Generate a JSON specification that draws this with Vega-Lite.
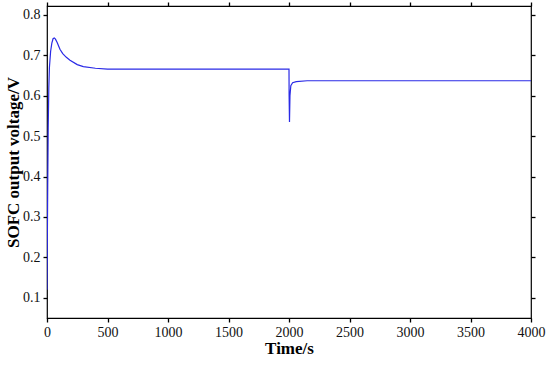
{
  "$schema": "https://vega.github.io/schema/vega-lite/v6.json",
  "width": 484,
  "height": 312,
  "autosize": {"type": "none"},
  "padding": {"left": 47, "top": 6, "right": 19, "bottom": 47},
  "background": "white",
  "config": {
    "view": {"stroke": "black", "strokeWidth": 1.2},
    "axis": {
      "labelFont": "Liberation Serif",
      "titleFont": "Liberation Serif",
      "labelFontSize": 14,
      "titleFontSize": 17,
      "titleFontWeight": "bold",
      "labelColor": "#111",
      "titleColor": "black",
      "grid": false,
      "domain": false,
      "ticks": true,
      "tickSize": 4,
      "tickColor": "black",
      "tickWidth": 1.3,
      "labelFlush": false,
      "labelOverlap": false,
      "labelPadding": 3
    }
  },
  "data": {
    "values": [
      {"t": 0, "v": 0.12},
      {"t": 3, "v": 0.25},
      {"t": 6, "v": 0.38},
      {"t": 10, "v": 0.52},
      {"t": 15, "v": 0.62},
      {"t": 20, "v": 0.67},
      {"t": 30, "v": 0.71},
      {"t": 40, "v": 0.73},
      {"t": 50, "v": 0.741},
      {"t": 60, "v": 0.743},
      {"t": 70, "v": 0.74},
      {"t": 85, "v": 0.731},
      {"t": 107, "v": 0.715},
      {"t": 130, "v": 0.704},
      {"t": 160, "v": 0.695},
      {"t": 190, "v": 0.688},
      {"t": 250, "v": 0.677},
      {"t": 300, "v": 0.672},
      {"t": 400, "v": 0.668},
      {"t": 500, "v": 0.666},
      {"t": 2000, "v": 0.666},
      {"t": 2001, "v": 0.6},
      {"t": 2004, "v": 0.535},
      {"t": 2008, "v": 0.6},
      {"t": 2015, "v": 0.625},
      {"t": 2030, "v": 0.632},
      {"t": 2060, "v": 0.635},
      {"t": 2150, "v": 0.637},
      {"t": 4000, "v": 0.637}
    ]
  },
  "layer": [
    {
      "mark": {"type": "line", "color": "#2a2ae6", "strokeWidth": 1.2, "clip": true},
      "encoding": {
        "x": {
          "field": "t", "type": "quantitative",
          "scale": {"domain": [0, 4000], "nice": false, "zero": false},
          "axis": {"title": "Time/s", "format": "d", "values": [0, 500, 1000, 1500, 2000, 2500, 3000, 3500, 4000], "titlePadding": 1}
        },
        "y": {
          "field": "v", "type": "quantitative",
          "scale": {"domain": [0.05, 0.822], "nice": false, "zero": false},
          "axis": {"title": "SOFC output voltage/V", "values": [0.1, 0.2, 0.3, 0.4, 0.5, 0.6, 0.7, 0.8], "format": ".1f", "titlePadding": 0}
        }
      }
    },
    {
      "mark": {"type": "line", "opacity": 0},
      "encoding": {
        "x": {
          "field": "t", "type": "quantitative",
          "axis": {"orient": "top", "title": null, "labels": false, "values": [0, 500, 1000, 1500, 2000, 2500, 3000, 3500, 4000]}
        },
        "y": {
          "field": "v", "type": "quantitative",
          "axis": {"orient": "right", "title": null, "labels": false, "values": [0.1, 0.2, 0.3, 0.4, 0.5, 0.6, 0.7, 0.8]}
        }
      }
    }
  ],
  "resolve": {"axis": {"x": "independent", "y": "independent"}}
}
